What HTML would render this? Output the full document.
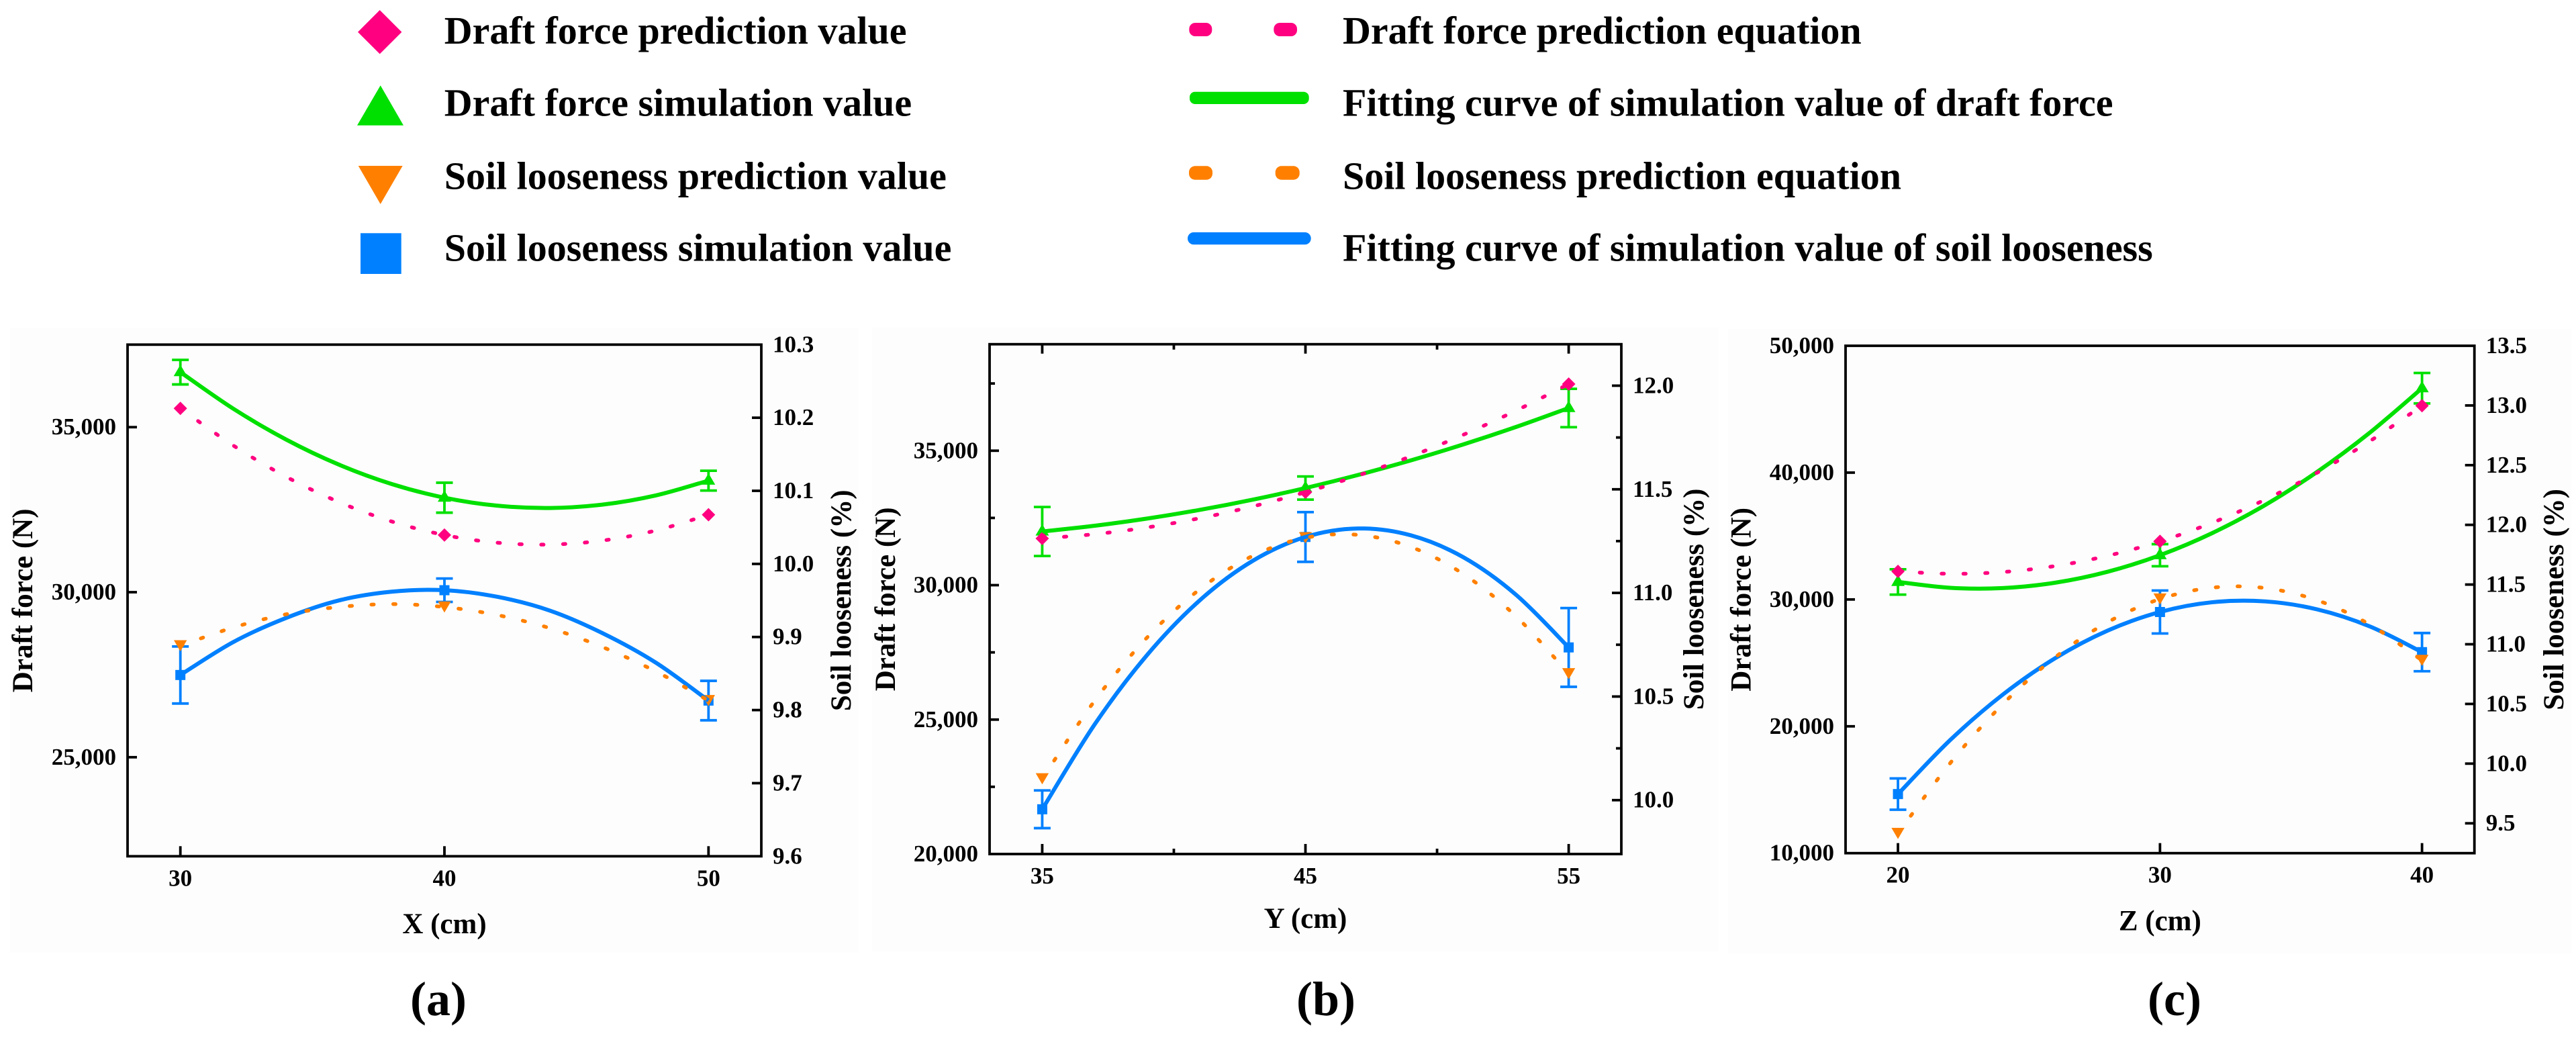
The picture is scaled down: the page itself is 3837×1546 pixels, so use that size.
<!DOCTYPE html>
<html lang="en">
<head>
<meta charset="utf-8">
<title>Draft force and soil looseness charts</title>
<style>
html,body{margin:0;padding:0;background:#fff;width:3837px;height:1546px;overflow:hidden}
svg{display:block;font-family:"Liberation Serif",serif;font-weight:bold}
text{fill:#000}
</style>
</head>
<body>
<svg id="figure" xmlns="http://www.w3.org/2000/svg" width="3837" height="1546" viewBox="0 0 3837 1546">
  <rect x="0" y="0" width="3837" height="1546" fill="#ffffff"/>
  <g id="legend">
    <polygon points="565.7,15 598.4,47.7 565.7,80.4 533,47.7" fill="#FF0080"/>
    <polygon points="566.7,127.3 601,186.7 532,186.7" fill="#00E000"/>
    <polygon points="533.7,247 599.7,247 566.7,304" fill="#FF8000"/>
    <rect x="537" y="347.3" width="60.7" height="60.7" fill="#0080FF"/>
    <text x="661.7" y="65" font-size="58">Draft force prediction value</text>
    <text x="661.7" y="172.7" font-size="58">Draft force simulation value</text>
    <text x="661.7" y="281.7" font-size="58">Soil looseness prediction value</text>
    <text x="661.7" y="388.3" font-size="58">Soil looseness simulation value</text>
    <rect x="1771.3" y="34" width="34" height="20" rx="9" fill="#FF0080"/>
    <rect x="1897.3" y="34" width="34.7" height="20" rx="9" fill="#FF0080"/>
    <rect x="1772" y="136.7" width="177.7" height="18.3" rx="8" fill="#00E000"/>
    <rect x="1771" y="247.3" width="35" height="20.4" rx="9" fill="#FF8000"/>
    <rect x="1899.7" y="247.3" width="36" height="20.4" rx="9" fill="#FF8000"/>
    <rect x="1769" y="346" width="183.7" height="18.3" rx="9" fill="#0080FF"/>
    <text x="2000" y="65" font-size="58">Draft force prediction equation</text>
    <text x="2000" y="172.7" font-size="58">Fitting curve of simulation value of draft force</text>
    <text x="2000" y="281.7" font-size="58">Soil looseness prediction equation</text>
    <text x="2000" y="388.3" font-size="58">Fitting curve of simulation value of soil looseness</text>
  </g>
  <text x="653" y="1512" font-size="72" text-anchor="middle">(a)</text>
  <text x="1975" y="1512" font-size="72" text-anchor="middle">(b)</text>
  <text x="3239" y="1512" font-size="72" text-anchor="middle">(c)</text>
  <g id="charts"></g>
</svg>
<script>
// Panel (a) values
const aCategories = [30, 40, 50];
const aDraftPrediction = [35569, 31732, 32346];
const aDraftSimulation = [36667, 32863, 33380];
const aDraftError = [372, 454, 300];
const aLoosenessPrediction = [9.888, 9.941, 9.813];
const aLoosenessSimulation = [9.848, 9.964, 9.813];
const aLoosenessError = [0.039, 0.016, 0.027];
const aCurveX = [30, 32, 34, 36, 38, 40, 42, 44, 46, 48, 50];
const aDraftPredictionCurve = [35569, 34446, 33500, 32733, 32143, 31732, 31499, 31444, 31566, 31867, 32346];
const aDraftSimulationCurve = [36667, 35561, 34627, 33866, 33278, 32863, 32621, 32551, 32655, 32931, 33380];
const aLoosenessPredictionCurve = [9.888, 9.913, 9.931, 9.941, 9.945, 9.941, 9.930, 9.912, 9.886, 9.853, 9.813];
const aLoosenessSimulationCurve = [9.848, 9.893, 9.926, 9.950, 9.962, 9.964, 9.955, 9.936, 9.905, 9.865, 9.813];
const aXDomain = [28, 52];
const aLeftDomain = [22000, 37500];
const aRightDomain = [9.6, 10.3];
const aLeftTicks = [25000, 30000, 35000];
const aLeftTickLabels = ['25,000', '30,000', '35,000'];
const aRightTicks = [9.6, 9.7, 9.8, 9.9, 10.0, 10.1, 10.2, 10.3];
const aRightTickLabels = ['9.6', '9.7', '9.8', '9.9', '10.0', '10.1', '10.2', '10.3'];

// Panel (b) values
const bCategories = [35, 45, 55];
const bDraftPrediction = [31737, 33457, 37480];
const bDraftSimulation = [31995, 33612, 36588];
const bDraftError = [912, 430, 714];
const bLoosenessPrediction = [10.103, 11.266, 10.61];
const bLoosenessSimulation = [9.956, 11.27, 10.737];
const bLoosenessError = [0.091, 0.12, 0.19];
const bCurveX = [35, 37, 39, 41, 43, 45, 47, 49, 51, 53, 55];
const bDraftPredictionCurve = [31737, 31897, 32149, 32493, 32929, 33457, 34077, 34790, 35594, 36491, 37480];
const bDraftSimulationCurve = [31995, 32210, 32479, 32802, 33180, 33612, 34099, 34639, 35235, 35884, 36588];
const bLoosenessPredictionCurve = [10.103, 10.481, 10.787, 11.019, 11.179, 11.266, 11.280, 11.222, 11.091, 10.887, 10.61];
const bLoosenessSimulationCurve = [9.956, 10.367, 10.703, 10.966, 11.155, 11.27, 11.311, 11.278, 11.172, 10.991, 10.737];
const bXDomain = [33, 57];
const bLeftDomain = [20000, 38960];
const bRightDomain = [9.74, 12.2];
const bLeftTicks = [20000, 25000, 30000, 35000];
const bLeftTickLabels = ['20,000', '25,000', '30,000', '35,000'];
const bLeftMinorTicks = [22500, 27500, 32500, 37500];
const bRightTicks = [10.0, 10.5, 11.0, 11.5, 12.0];
const bRightTickLabels = ['10.0', '10.5', '11.0', '11.5', '12.0'];
const bRightMinorTicks = [10.25, 10.75, 11.25, 11.75];
const bXMinorTicks = [40, 50];

// Panel (c) values
const cCategories = [20, 30, 40];
const cDraftPrediction = [32218, 34582, 45273];
const cDraftSimulation = [31382, 33491, 46655];
const cDraftError = [1000, 872, 1200];
const cLoosenessPrediction = [9.415, 11.379, 10.865];
const cLoosenessSimulation = [9.745, 11.27, 10.934];
const cLoosenessError = [0.131, 0.18, 0.16];
const cCurveX = [20, 22, 24, 26, 28, 30, 32, 34, 36, 38, 40];
const cDraftPredictionCurve = [32218, 32025, 32164, 32637, 33443, 34582, 36054, 37859, 39997, 42469, 45273];
const cDraftSimulationCurve = [31382, 30919, 30899, 31321, 32185, 33491, 35239, 37430, 40063, 43138, 46655];
const cLoosenessPredictionCurve = [9.415, 10.006, 10.498, 10.891, 11.184, 11.379, 11.474, 11.471, 11.368, 11.166, 10.865];
const cLoosenessSimulationCurve = [9.745, 10.199, 10.578, 10.883, 11.114, 11.27, 11.352, 11.359, 11.292, 11.150, 10.934];
const cXDomain = [18, 42];
const cLeftDomain = [10000, 50000];
const cRightDomain = [9.25, 13.5];
const cLeftTicks = [10000, 20000, 30000, 40000, 50000];
const cLeftTickLabels = ['10,000', '20,000', '30,000', '40,000', '50,000'];
const cRightTicks = [9.5, 10.0, 10.5, 11.0, 11.5, 12.0, 12.5, 13.0, 13.5];
const cRightTickLabels = ['9.5', '10.0', '10.5', '11.0', '11.5', '12.0', '12.5', '13.0', '13.5'];

const PINK = '#FF0080', GREEN = '#00E000', ORANGE = '#FF8000', BLUE = '#0080FF';
const NS = 'http://www.w3.org/2000/svg';

function make(tag, attrs, parent) {
  const el = document.createElementNS(NS, tag);
  for (const k in attrs) el.setAttribute(k, attrs[k]);
  parent.appendChild(el);
  return el;
}

function smoothPath(pts) {
  let d = 'M' + pts[0][0].toFixed(2) + ' ' + pts[0][1].toFixed(2);
  for (let i = 0; i < pts.length - 1; i++) {
    const p0 = pts[Math.max(i - 1, 0)], p1 = pts[i], p2 = pts[i + 1], p3 = pts[Math.min(i + 2, pts.length - 1)];
    const c1x = p1[0] + (p2[0] - p0[0]) / 6, c1y = p1[1] + (p2[1] - p0[1]) / 6;
    const c2x = p2[0] - (p3[0] - p1[0]) / 6, c2y = p2[1] - (p3[1] - p1[1]) / 6;
    d += 'C' + c1x.toFixed(2) + ' ' + c1y.toFixed(2) + ' ' + c2x.toFixed(2) + ' ' + c2y.toFixed(2) + ' ' + p2[0].toFixed(2) + ' ' + p2[1].toFixed(2);
  }
  return d;
}

function drawPanel(cfg) {
  const root = document.getElementById('charts');
  const g = make('g', {}, root);
  
  

  const L = cfg.box;
  const sx = v => L.left + (v - cfg.xDomain[0]) / (cfg.xDomain[1] - cfg.xDomain[0]) * (L.right - L.left);
  const syL = v => L.bottom - (v - cfg.leftDomain[0]) / (cfg.leftDomain[1] - cfg.leftDomain[0]) * (L.bottom - L.top);
  const syR = v => L.bottom - (v - cfg.rightDomain[0]) / (cfg.rightDomain[1] - cfg.rightDomain[0]) * (L.bottom - L.top);

  const bg = make('rect', {x: L.left - 175, y: L.top - 25, width: L.right - L.left + 320, height: 930, fill: '#FDFDFD'}, g);
  
  

  const tick = (x1, y1, x2, y2, name) => {
    const t = make('line', {x1, y1, x2, y2, stroke: '#000', 'stroke-width': 3.8}, g);
    
    
  };
  const label = (x, y, s, anchor, size, name) => {
    const t = make('text', {x, y, 'text-anchor': anchor, 'font-size': size}, g);
    t.textContent = s;
    
    
    return t;
  };

  // ticks and tick labels
  cfg.leftTicks.forEach((v, i) => {
    const y = syL(v);
    if (Math.abs(y - L.bottom) > 2 && Math.abs(y - L.top) > 2) tick(L.left, y, L.left + 14, y, 'left-tick');
    label(L.left - 17, y + 11, cfg.leftTickLabels[i], 'end', 35, 'left-tick-label');
  });
  (cfg.leftMinor || []).forEach(v => tick(L.left, syL(v), L.left + 8, syL(v), 'left-minor-tick'));
  cfg.rightTicks.forEach((v, i) => {
    const y = syR(v);
    if (Math.abs(y - L.bottom) > 2 && Math.abs(y - L.top) > 2) tick(L.right, y, L.right - 14, y, 'right-tick');
    label(L.right + 17, y + 11, cfg.rightTickLabels[i], 'start', 35, 'right-tick-label');
  });
  (cfg.rightMinor || []).forEach(v => tick(L.right, syR(v), L.right - 8, syR(v), 'right-minor-tick'));
  cfg.categories.forEach(v => {
    tick(sx(v), L.bottom, sx(v), L.bottom - 15, 'x-tick');
    if (cfg.topTicks) tick(sx(v), L.top, sx(v), L.top + 14, 'x-top-tick');
    label(sx(v), L.bottom + 44, String(v), 'middle', 35, 'x-tick-label');
  });
  (cfg.xMinor || []).forEach(v => {
    tick(sx(v), L.bottom, sx(v), L.bottom - 8, 'x-minor-tick');
    tick(sx(v), L.top, sx(v), L.top + 8, 'x-top-minor-tick');
  });

  // frame
  const frame = make('rect', {x: L.left, y: L.top, width: L.right - L.left, height: L.bottom - L.top, fill: 'none', stroke: '#000', 'stroke-width': 3.8}, g);
  
  

  // axis titles
  label(sx((cfg.categories[0] + cfg.categories[2]) / 2), cfg.xTitleY, cfg.xTitle, 'middle', 43, 'x-axis-title');
  const cy = (L.top + L.bottom) / 2;
  const lt = label(cfg.leftTitleX, cy, 'Draft force (N)', 'middle', 43, 'left-axis-title');
  lt.setAttribute('transform', 'rotate(-90 ' + cfg.leftTitleX + ' ' + cy + ')');
  const rt = label(cfg.rightTitleX, cy, 'Soil looseness (%)', 'middle', 43, 'right-axis-title');
  rt.setAttribute('transform', 'rotate(-90 ' + cfg.rightTitleX + ' ' + cy + ')');

  // error bars
  const errBar = (xv, yc, yTop, yBot, color, name) => {
    const x = sx(xv);
    const e = make('path', {d: 'M' + x + ' ' + yTop + 'V' + yBot + 'M' + (x - 12.5) + ' ' + yTop + 'H' + (x + 12.5) + 'M' + (x - 12.5) + ' ' + yBot + 'H' + (x + 12.5), stroke: color, 'stroke-width': 3.8, fill: 'none'}, g);
    
    
  };
  cfg.categories.forEach((xv, i) => {
    errBar(xv, syL(cfg.draftSim[i]), syL(cfg.draftSim[i] + cfg.draftErr[i]), syL(cfg.draftSim[i] - cfg.draftErr[i]), GREEN, 'draft-simulation-error-bar');
    errBar(xv, syR(cfg.looseSim[i]), syR(cfg.looseSim[i] + cfg.looseErr[i]), syR(cfg.looseSim[i] - cfg.looseErr[i]), BLUE, 'looseness-simulation-error-bar');
  });

  // markers
  cfg.categories.forEach((xv, i) => {
    const x = sx(xv);
    let y = syL(cfg.draftSim[i]);
    const up = make('polygon', {points: x + ',' + (y - 11) + ' ' + (x + 10) + ',' + (y + 6) + ' ' + (x - 10) + ',' + (y + 6), fill: GREEN}, g);
    
    
    y = syL(cfg.draftPred[i]);
    const dia = make('polygon', {points: x + ',' + (y - 10) + ' ' + (x + 10) + ',' + y + ' ' + x + ',' + (y + 10) + ' ' + (x - 10) + ',' + y, fill: PINK}, g);
    
    
    y = syR(cfg.looseSim[i]);
    const sq = make('rect', {x: x - 7.5, y: y - 7.5, width: 15, height: 15, fill: BLUE}, g);
    
    
    y = syR(cfg.loosePred[i]);
    const down = make('polygon', {points: (x - 9.7) + ',' + (y - 8.3) + ' ' + (x + 9.7) + ',' + (y - 8.3) + ' ' + x + ',' + (y + 8.3), fill: ORANGE}, g);
    
    
  });

  // curves
  const curve = (ys, sy, color, dotted, name) => {
    const pts = cfg.curveX.map((xv, i) => [sx(xv), sy(ys[i])]);
    const attrs = {d: smoothPath(pts), fill: 'none', stroke: color};
    if (dotted) {
      attrs['stroke-width'] = 5.5;
      attrs['stroke-linecap'] = 'round';
      attrs['stroke-dasharray'] = '3.5 29';
    } else {
      attrs['stroke-width'] = 6;
    }
    const c = make('path', attrs, g);
    
    
  };
  curve(cfg.draftSimCurve, syL, GREEN, false, 'draft-simulation-fit-curve');
  curve(cfg.looseSimCurve, syR, BLUE, false, 'looseness-simulation-fit-curve');
  curve(cfg.draftPredCurve, syL, PINK, true, 'draft-prediction-equation-curve');
  curve(cfg.loosePredCurve, syR, ORANGE, true, 'looseness-prediction-equation-curve');
}

drawPanel({
  id: 'a', box: {left: 190, right: 1134, top: 513.3, bottom: 1275.3},
  xTitle: 'X (cm)', xTitleY: 1390, leftTitleX: 48, rightTitleX: 1267,
  categories: aCategories, xDomain: aXDomain, leftDomain: aLeftDomain, rightDomain: aRightDomain,
  leftTicks: aLeftTicks, leftTickLabels: aLeftTickLabels, rightTicks: aRightTicks, rightTickLabels: aRightTickLabels,
  draftPred: aDraftPrediction, draftSim: aDraftSimulation, draftErr: aDraftError,
  loosePred: aLoosenessPrediction, looseSim: aLoosenessSimulation, looseErr: aLoosenessError,
  curveX: aCurveX, draftPredCurve: aDraftPredictionCurve, draftSimCurve: aDraftSimulationCurve,
  loosePredCurve: aLoosenessPredictionCurve, looseSimCurve: aLoosenessSimulationCurve
});
drawPanel({
  id: 'b', box: {left: 1474, right: 2415, top: 512.7, bottom: 1272},
  xTitle: 'Y (cm)', xTitleY: 1382, leftTitleX: 1333, rightTitleX: 2537, topTicks: true,
  categories: bCategories, xDomain: bXDomain, leftDomain: bLeftDomain, rightDomain: bRightDomain,
  leftTicks: bLeftTicks, leftTickLabels: bLeftTickLabels, leftMinor: bLeftMinorTicks,
  rightTicks: bRightTicks, rightTickLabels: bRightTickLabels, rightMinor: bRightMinorTicks, xMinor: bXMinorTicks,
  draftPred: bDraftPrediction, draftSim: bDraftSimulation, draftErr: bDraftError,
  loosePred: bLoosenessPrediction, looseSim: bLoosenessSimulation, looseErr: bLoosenessError,
  curveX: bCurveX, draftPredCurve: bDraftPredictionCurve, draftSimCurve: bDraftSimulationCurve,
  loosePredCurve: bLoosenessPredictionCurve, looseSimCurve: bLoosenessSimulationCurve
});
drawPanel({
  id: 'c', box: {left: 2749, right: 3685.7, top: 515, bottom: 1270.7},
  xTitle: 'Z (cm)', xTitleY: 1385.4, leftTitleX: 2607.7, rightTitleX: 3818,
  categories: cCategories, xDomain: cXDomain, leftDomain: cLeftDomain, rightDomain: cRightDomain,
  leftTicks: cLeftTicks, leftTickLabels: cLeftTickLabels, rightTicks: cRightTicks, rightTickLabels: cRightTickLabels,
  draftPred: cDraftPrediction, draftSim: cDraftSimulation, draftErr: cDraftError,
  loosePred: cLoosenessPrediction, looseSim: cLoosenessSimulation, looseErr: cLoosenessError,
  curveX: cCurveX, draftPredCurve: cDraftPredictionCurve, draftSimCurve: cDraftSimulationCurve,
  loosePredCurve: cLoosenessPredictionCurve, looseSimCurve: cLoosenessSimulationCurve
});
</script>
</body>
</html>
